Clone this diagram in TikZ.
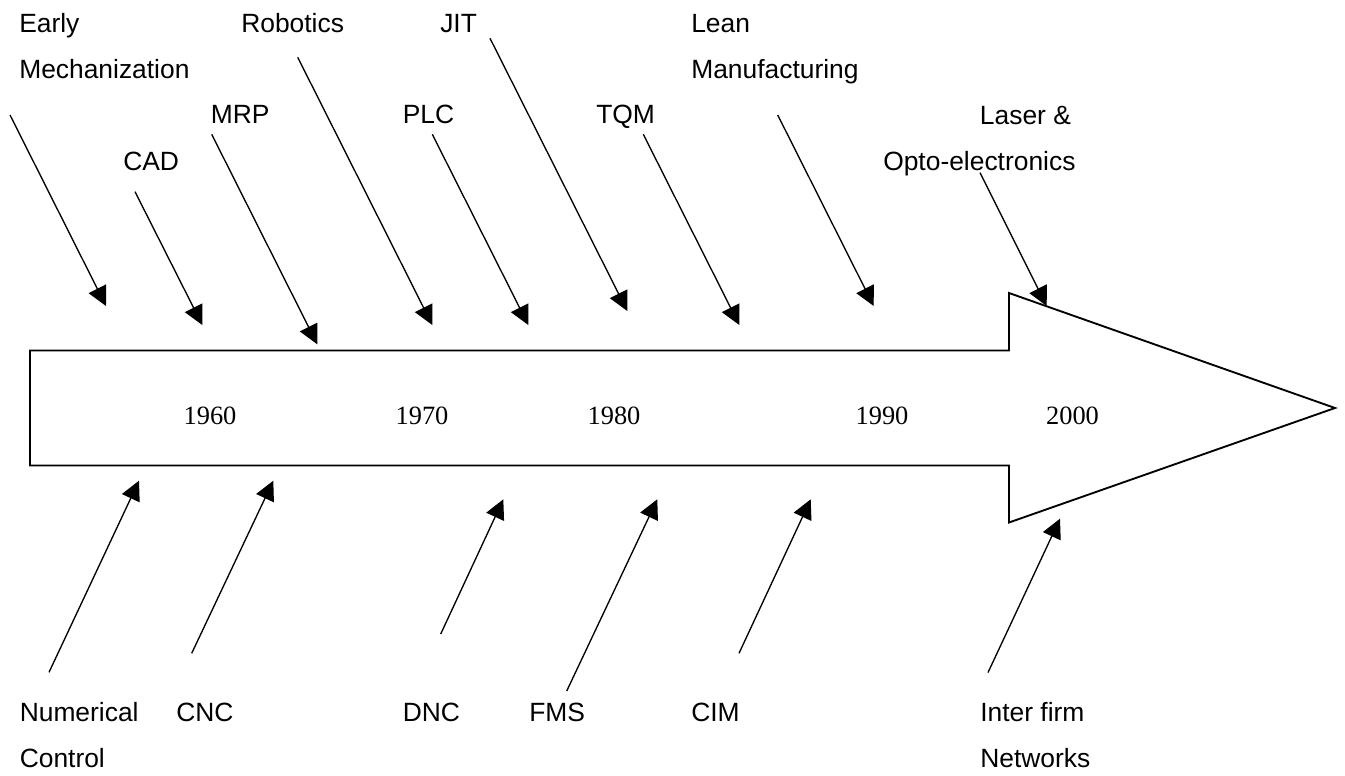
\documentclass[tikz,border=0pt]{standalone}
\usepackage{fontspec}
\setmainfont{Liberation Serif}
\newfontfamily\labelfont{Liberation Sans}
\usetikzlibrary{arrows.meta}
\begin{document}
\begin{tikzpicture}[x=0.75pt,y=-0.75pt,
  lbl/.style={font=\labelfont\fontsize{19.8}{34.5}\selectfont, anchor=base west, inner sep=0pt, align=left},
  yr/.style={font=\fontsize{19.8}{24}\selectfont, anchor=base, inner sep=0pt},
  conn/.style={line width=1pt, -{Triangle[length=14.5pt,width=14.5pt]}},
  body/.style={line width=1.4pt, fill=white, line join=miter}]
\useasboundingbox (0,0) rectangle (1345,775);

% big timeline arrow
\draw[body] (30,350.5) -- (1009,350.5) -- (1009,293) -- (1335,408) -- (1009,522.5) -- (1009,465.5) -- (30,465.5) -- cycle;

% years
\node[yr] (y1960) at (210,424) {1960};
\node[yr] (y1970) at (422,424) {1970};
\node[yr] (y1980) at (614,424) {1980};
\node[yr] (y1990) at (882,424) {1990};
\node[yr] (y2000) at (1072.5,424) {2000};

% top labels (multi-line nodes are anchored at the baseline of their last line)
\node[lbl] (early) at (19,78) {Early\\Mechanization};
\node[lbl] (robotics) at (241,32) {Robotics};
\node[lbl] (jit) at (440,32) {JIT};
\node[lbl] (lean) at (691,78) {Lean\\Manufacturing};
\node[lbl] (mrp) at (210.5,123) {MRP};
\node[lbl] (plc) at (402.5,123) {PLC};
\node[lbl] (tqm) at (596,123) {TQM};
\node[lbl] (cad) at (123,170) {CAD};
\node[lbl] (laser) at (883,170) {\hspace*{72.5pt}Laser \&\\Opto-electronics};

% bottom labels
\node[lbl] (nc) at (19.5,767) {Numerical\\Control};
\node[lbl] (cnc) at (176,721.7) {CNC};
\node[lbl] (dnc) at (402.5,721.7) {DNC};
\node[lbl] (fms) at (529,721.7) {FMS};
\node[lbl] (cim) at (691,721.7) {CIM};
\node[lbl] (inter) at (980,767) {Inter firm\\Networks};

% connector end points
\coordinate (s1) at (10,115);      \coordinate (e1) at (106,306);
\coordinate (s2) at (135,191.7);   \coordinate (e2) at (202.3,325);
\coordinate (s3) at (211.7,134.3); \coordinate (e3) at (317.3,344.3);
\coordinate (s4) at (297.7,57.3);  \coordinate (e4) at (432.3,325);
\coordinate (s5) at (432.3,134.3); \coordinate (e5) at (528.3,325);
\coordinate (s6) at (490,38.3);    \coordinate (e6) at (627.3,311);
\coordinate (s7) at (643.3,134.3); \coordinate (e7) at (739.3,325);
\coordinate (s8) at (777.7,115);   \coordinate (e8) at (873.7,306);
\coordinate (s9) at (980,172.7);   \coordinate (e9) at (1046.7,306);

\coordinate (b1) at (49,672.3);    \coordinate (f1) at (139,480.7);
\coordinate (b2) at (191.7,653.3); \coordinate (f2) at (273.3,480.7);
\coordinate (b3) at (440.7,634);   \coordinate (f3) at (503.3,499.3);
\coordinate (b4) at (566.7,691);   \coordinate (f4) at (657.3,499.3);
\coordinate (b5) at (739,653.3);   \coordinate (f5) at (810.7,499.3);
\coordinate (b6) at (988,672.5);   \coordinate (f6) at (1060,518.7);

\foreach \i in {1,...,9} \draw[conn] (s\i) -- (e\i);
\foreach \i in {1,...,6} \draw[conn] (b\i) -- (f\i);
\end{tikzpicture}
\end{document}
